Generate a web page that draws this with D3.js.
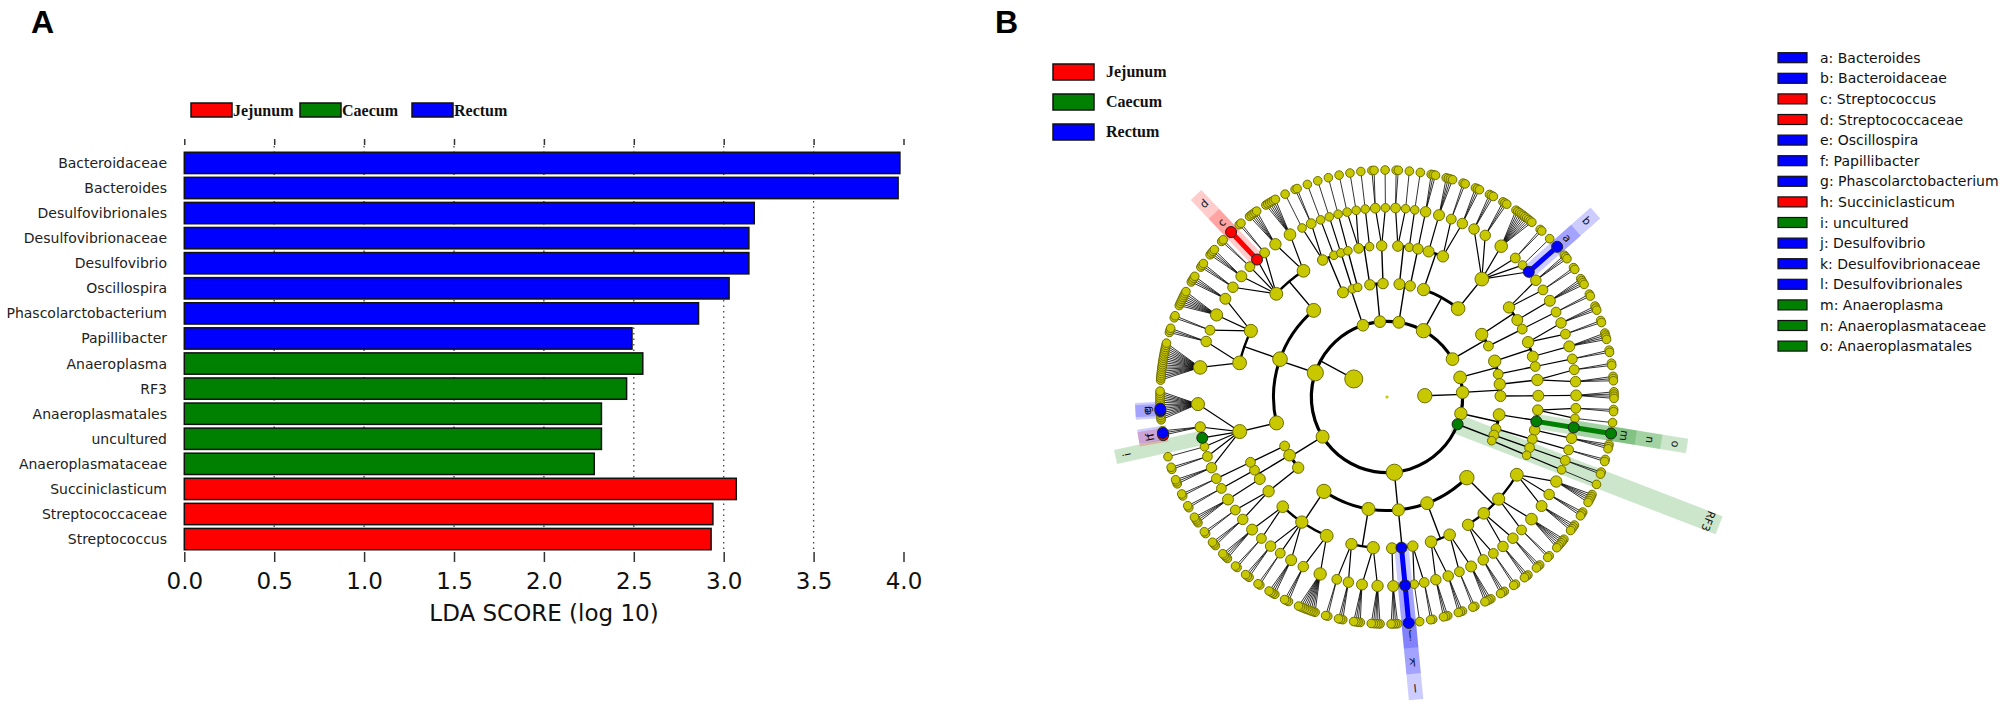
<!DOCTYPE html>
<html>
<head>
<meta charset="utf-8">
<script src="https://cdn.jsdelivr.net/npm/d3@7"></script>
<style>
  body { margin: 0; background: #fff; }
  svg { display: block; }
</style>
</head>
<body>
<script>
/***** Data: panel A (LDA scores) *****/
const taxa = ["Bacteroidaceae", "Bacteroides", "Desulfovibrionales", "Desulfovibrionaceae",
  "Desulfovibrio", "Oscillospira", "Phascolarctobacterium", "Papillibacter", "Anaeroplasma",
  "RF3", "Anaeroplasmatales", "uncultured", "Anaeroplasmataceae", "Succiniclasticum",
  "Streptococcaceae", "Streptococcus"];
const ldaScores = [3.98, 3.97, 3.17, 3.14, 3.14, 3.03, 2.86, 2.49, 2.55, 2.46, 2.32, 2.32, 2.28, 3.07, 2.94, 2.93];
const enrichedIn = ["Rectum", "Rectum", "Rectum", "Rectum", "Rectum", "Rectum", "Rectum", "Rectum",
  "Caecum", "Caecum", "Caecum", "Caecum", "Caecum", "Jejunum", "Jejunum", "Jejunum"];
const groups = ["Jejunum", "Caecum", "Rectum"];
const groupColors = ["#ff0000", "#008000", "#0000ff"];
const ldaTicks = [0, 0.5, 1, 1.5, 2, 2.5, 3, 3.5, 4];

/***** Data: panel B (cladogram) *****/
const markerIds = ["a", "b", "c", "d", "e", "f", "g", "h", "i", "j", "k", "l", "m", "n", "o", "RF3"];
const markerTaxa = ["Bacteroides", "Bacteroidaceae", "Streptococcus", "Streptococcaceae", "Oscillospira",
  "Papillibacter", "Phascolarctobacterium", "Succiniclasticum", "uncultured", "Desulfovibrio",
  "Desulfovibrionaceae", "Desulfovibrionales", "Anaeroplasma", "Anaeroplasmataceae", "Anaeroplasmatales", "RF3"];
const markerGroups = ["Rectum", "Rectum", "Jejunum", "Jejunum", "Rectum", "Rectum", "Rectum", "Jejunum",
  "Caecum", "Rectum", "Rectum", "Rectum", "Caecum", "Caecum", "Caecum", "Caecum"];

// taxonomy: kingdom > phylum > class > order > family > genus
// array = clade with listed children, number = clade ending in a family with that many genera,
// 0 = terminal clade, {id} = highlighted clade
const kingdomRight = [
  [[[3, 2], [4]], [[2]]],
  [[[2, 3]], [[4]]],
  [[[2, 1], {id: "o", c: [{id: "n", c: [{id: "m"}]}]}, [3]], [[2]]]
];
const phylumRF3 = {id: "RF3", c: [[[2]], [[1]]]};
const phylumProteo = [
  [[5, 3, 4], [6, 2], [3, 3], [2, 3]],
  [[4, 2], [3, 3]],
  [[2, 1], {id: "l", c: [{id: "k", c: [{id: "j"}]}]}, [4]],
  [[5, 4], [3, 2]],
  [[9, 3], [4, 2, 3], [2, 4]]
];
const phylumSmall = [[[3, 2]], [[4], [2]], 2];
const phylumFirmicutes = [
  [[3, 2, 1, {id: "i"}, [{id: "h"}, {id: "f"}, 0], [0, 0, 0, 0, {id: "e"}, {id: "g"}, 0, 0, 0, 0, 0, 0, 0, 0]]],
  [[18, 3], [2, 8, 4]],
  [[3, 4, 2, {id: "d", c: [{id: "c"}]}, 2], [5, 6]]
];
const phylumTop1 = [[[1, 2], [1]], [[1]], 1];
const phylumTop2 = [[[1, 1], [1]], [[2, 1]]];
const phylumTop3 = [[[2, 1], [1]], [[3]]];
const phylumBacteroidetes = [[[4], [2, 3]], [[3, 3, 10, 2, 1, {id: "b", c: [{id: "a"}]}]]];
const phylumLast = [[[3, 2], [4]], [[2]]];
const kingdomLeft = [phylumRF3, phylumProteo, phylumSmall, phylumFirmicutes,
  phylumTop1, phylumTop2, phylumTop3, phylumBacteroidetes, phylumLast];

/***** Layout *****/
const W = 2005, H = 711;
const FONT = "'DejaVu Sans', Verdana, sans-serif";
const SERIF = "'Liberation Serif', 'Times New Roman', serif";
const colorOf = g => groupColors[groups.indexOf(g)];

const svg = d3.select("body").append("svg").attr("width", W).attr("height", H);

svg.append("text").attr("x", 31).attr("y", 33).text("A")
  .style("font", "bold 32px 'Liberation Sans', Arial, sans-serif");
svg.append("text").attr("x", 995).attr("y", 33).text("B")
  .style("font", "bold 32px 'Liberation Sans', Arial, sans-serif");

/***** Panel A *****/
const xScale = d3.scaleLinear().domain([0, 4]).range([184.3, 903.5]);
const yScale = d3.scaleBand().domain(taxa).range([151, 551]).paddingInner(0.15).paddingOuter(0.05);
const gA = svg.append("g");

// legend
const legendAX = [191, 300, 412];
groups.forEach((g, i) => {
  gA.append("rect").attr("x", legendAX[i]).attr("y", 103).attr("width", 41).attr("height", 14)
    .attr("fill", groupColors[i]).attr("stroke", "#111").attr("stroke-width", 1.5);
  gA.append("text").attr("x", legendAX[i] + 42).attr("y", 116).text(g)
    .style("font", "bold 16px " + SERIF).attr("fill", "#111");
});

// dotted grid
gA.append("g").selectAll("line").data(ldaTicks.slice(1, -1)).join("line")
  .attr("x1", d => xScale(d)).attr("x2", d => xScale(d))
  .attr("y1", 146).attr("y2", 552)
  .attr("stroke", "#444").attr("stroke-width", 1.3).attr("stroke-dasharray", "1.5,4");

// top tick marks
const topAxis = gA.append("g").attr("transform", "translate(0,145)")
  .call(d3.axisTop(xScale).tickValues(ldaTicks).tickSize(6).tickFormat(""));
topAxis.select(".domain").remove();
topAxis.selectAll("line").attr("stroke", "#333").attr("stroke-width", 1.5);

// bars
gA.append("g").selectAll("rect").data(taxa).join("rect")
  .attr("x", xScale(0))
  .attr("y", d => yScale(d))
  .attr("width", (d, i) => xScale(ldaScores[i]) - xScale(0))
  .attr("height", yScale.bandwidth())
  .attr("fill", (d, i) => colorOf(enrichedIn[i]))
  .attr("stroke", "#111").attr("stroke-width", 1.5);

// category labels
gA.append("g").selectAll("text").data(taxa).join("text")
  .attr("x", 167).attr("y", d => yScale(d) + yScale.bandwidth() / 2)
  .attr("text-anchor", "end").attr("dominant-baseline", "central")
  .style("font", "14px " + FONT).attr("fill", "#222")
  .text(d => d);

// bottom axis
const bottomAxis = gA.append("g").attr("transform", "translate(0,552)")
  .call(d3.axisBottom(xScale).tickValues(ldaTicks).tickSize(10).tickPadding(11).tickFormat(d3.format(".1f")));
bottomAxis.select(".domain").remove();
bottomAxis.selectAll("line").attr("stroke", "#333").attr("stroke-width", 1.5);
bottomAxis.selectAll("text").style("font", "23px " + FONT).attr("fill", "#111");

gA.append("text").attr("x", 544).attr("y", 621).attr("text-anchor", "middle")
  .style("font", "23px " + FONT).attr("fill", "#111").text("LDA SCORE (log 10)");

/***** Panel B *****/
const cx = 1387, cy = 397;
const MAX_DEPTH = 6;

function build(spec, depth) {
  if (typeof spec === "number") {
    if (spec === 0 || depth === MAX_DEPTH) return {depth};
    if (depth === MAX_DEPTH - 1) return {depth, children: d3.range(spec).map(() => ({depth: MAX_DEPTH}))};
    return {depth, children: [build(spec, depth + 1)]};
  }
  if (Array.isArray(spec)) return {depth, children: spec.map(s => build(s, depth + 1))};
  const node = {depth, id: spec.id};
  if (spec.c) node.children = spec.c.map(s => build(s, depth + 1));
  return node;
}

const root = d3.hierarchy(build([kingdomRight, kingdomLeft], 0));
root.count();
const leaves = root.leaves();

// sibling genera are packed tightly so that large families form fans
let cum = 0;
const leafPos = leaves.map((l, i) => {
  cum += (i > 0 && l.parent === leaves[i - 1].parent) ? 0.2 : 1;
  return cum - 0.5;
});
const angleScale = d3.scaleLinear().domain([0, cum]).range([-25, 335]);
leaves.forEach((l, i) => { l.angle = angleScale(leafPos[i]); });
root.eachAfter(n => { if (n.children) n.angle = d3.mean(n.children, c => c.angle); });

const rScale = d3.scaleLinear().domain([0, MAX_DEPTH]).range([0, 227]);
const sizeScale = d3.scaleLog().domain([1, d3.max(root.children, k => k.value)]).range([4.3, 9]).clamp(true);
const labelRing = d3.scaleLinear().domain([MAX_DEPTH, 2]).range([240, 344]);

const polar = (r, deg) => {
  const a = deg * Math.PI / 180;
  return [cx + r * Math.cos(a), cy + r * Math.sin(a)];
};
const markerInfo = id => {
  const i = markerIds.indexOf(id);
  return {taxon: markerTaxa[i], color: colorOf(markerGroups[i])};
};

const gB = svg.append("g");
const marked = root.descendants().filter(n => n.data.id);

// shaded bands behind the tree
const bandG = gB.append("g");
marked.forEach(n => {
  const r0 = rScale(n.depth) - 4;
  const r1 = labelRing(n.depth) + 12;
  const w = 12 + 2.5 * n.value;
  bandG.append("rect")
    .attr("transform", `translate(${cx},${cy}) rotate(${n.angle})`)
    .attr("x", r0).attr("y", -w / 2).attr("width", r1 - r0).attr("height", w)
    .attr("fill", markerInfo(n.data.id).color).attr("fill-opacity", 0.2);
});

// edges
const edgeG = gB.append("g").attr("fill", "none").attr("stroke", "#000").attr("stroke-linecap", "round");
const arcWidth = {1: 3.2, 2: 3.0, 3: 2.4};
root.descendants().forEach(p => {
  if (!p.children || p.depth === 0) return;
  const rp = rScale(p.depth), rc = rScale(p.depth + 1);
  if (p.depth <= 3) {
    const [x0, y0] = polar(rp, p.angle), [x1, y1] = polar(rc, p.angle);
    edgeG.append("line").attr("x1", x0).attr("y1", y0).attr("x2", x1).attr("y2", y1)
      .attr("stroke-width", 1.4);
    if (p.children.length > 1) {
      const a0 = d3.min(p.children, c => c.angle), a1 = d3.max(p.children, c => c.angle);
      const path = d3.path();
      const [sx, sy] = polar(rc, a0);
      path.moveTo(sx, sy);
      path.arc(cx, cy, rc, a0 * Math.PI / 180, a1 * Math.PI / 180);
      edgeG.append("path").attr("d", path.toString()).attr("stroke-width", arcWidth[p.depth]);
    }
  } else {
    const [x0, y0] = polar(rp, p.angle);
    p.children.forEach(c => {
      const [x1, y1] = polar(rc, c.angle);
      edgeG.append("line").attr("x1", x0).attr("y1", y0).attr("x2", x1).attr("y2", y1)
        .attr("stroke-width", p.depth === 4 ? 1.2 : 0.8);
    });
  }
});

// highlighted lineages
marked.forEach(n => {
  if (!n.parent || !n.parent.data.id) return;
  const [x0, y0] = polar(rScale(n.parent.depth), n.parent.angle);
  const [x1, y1] = polar(rScale(n.depth), n.angle);
  edgeG.append("line").attr("x1", x0).attr("y1", y0).attr("x2", x1).attr("y2", y1)
    .attr("stroke", markerInfo(n.data.id).color).attr("stroke-width", 5);
});

// nodes
const nodeG = gB.append("g");
const plain = root.descendants().filter(n => !n.data.id);
nodeG.selectAll("circle.plain").data(plain).join("circle")
  .attr("class", "plain")
  .attr("cx", n => polar(rScale(n.depth), n.angle)[0])
  .attr("cy", n => polar(rScale(n.depth), n.angle)[1])
  .attr("r", n => n.depth === 0 ? 1.6 : sizeScale(n.value))
  .attr("fill", "#c8c800").attr("stroke", "#6e6e00").attr("stroke-width", n => n.depth === 0 ? 0 : 1);
nodeG.selectAll("circle.mark").data(marked).join("circle")
  .attr("class", "mark")
  .attr("cx", n => polar(rScale(n.depth), n.angle)[0])
  .attr("cy", n => polar(rScale(n.depth), n.angle)[1])
  .attr("r", n => Math.max(5.5, sizeScale(n.value)))
  .attr("fill", n => markerInfo(n.data.id).color).attr("stroke", "#222").attr("stroke-width", 1);

// clade letters
gB.append("g").selectAll("text").data(marked).join("text")
  .attr("transform", n => {
    const [x, y] = polar(labelRing(n.depth), n.angle);
    return `translate(${x},${y}) rotate(${n.angle + 90})`;
  })
  .attr("text-anchor", "middle").attr("dominant-baseline", "central")
  .style("font", "11px " + FONT).attr("fill", "#111")
  .text(n => n.data.id);

// group legend
const legendBY = [64, 94, 124];
groups.forEach((g, i) => {
  gB.append("rect").attr("x", 1053).attr("y", legendBY[i]).attr("width", 41).attr("height", 16)
    .attr("fill", groupColors[i]).attr("stroke", "#111").attr("stroke-width", 1.5);
  gB.append("text").attr("x", 1106).attr("y", legendBY[i] + 13).text(g)
    .style("font", "bold 16px " + SERIF).attr("fill", "#111");
});

// marker legend
const keyScale = d3.scaleLinear().domain([0, 1]).range([57.7, 78.3]);
const keyIds = markerIds.filter(id => id.length === 1);
keyIds.forEach((id, i) => {
  const y = keyScale(i);
  const info = markerInfo(id);
  gB.append("rect").attr("x", 1778).attr("y", y - 5).attr("width", 29).attr("height", 10)
    .attr("fill", info.color).attr("stroke", "#111").attr("stroke-width", 1.2);
  gB.append("text").attr("x", 1820).attr("y", y + 5).text(id + ": " + info.taxon)
    .style("font", "14px " + FONT).attr("fill", "#111");
});
</script>
</body>
</html>
